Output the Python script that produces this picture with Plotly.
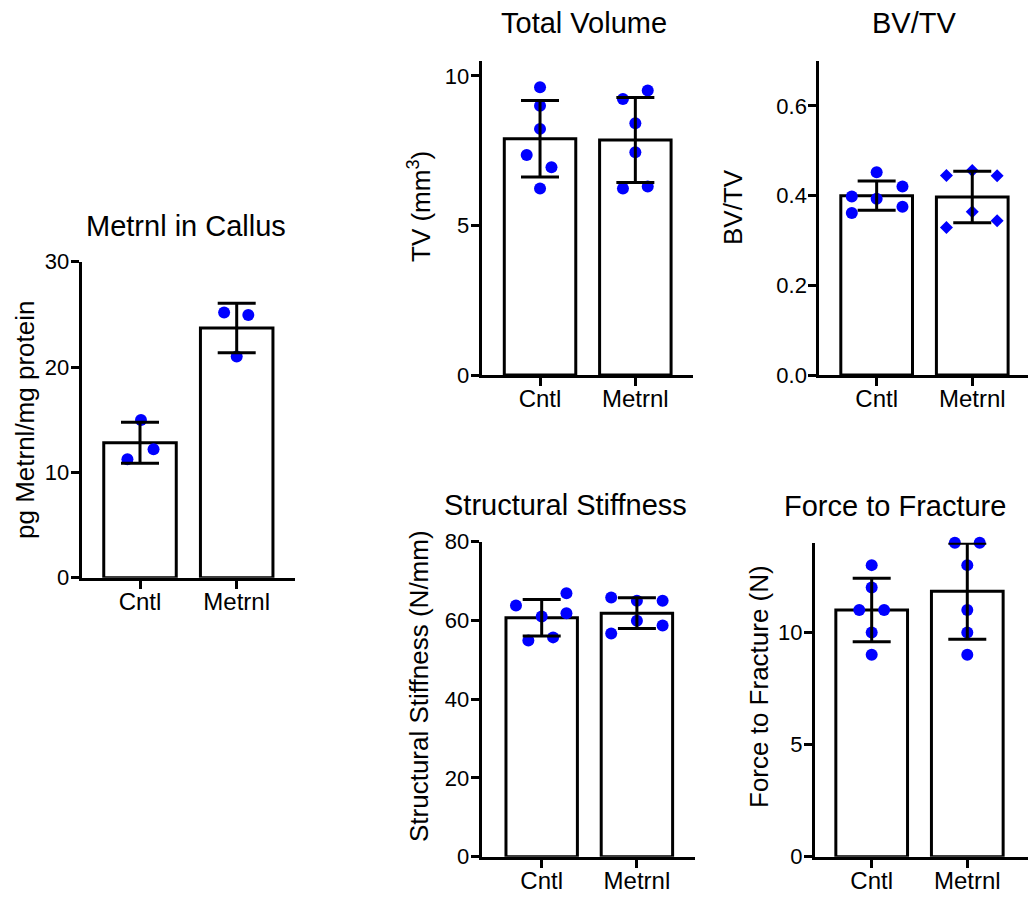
import numpy as np
import plotly.graph_objects as go

# ---------------- data ----------------
groups = ["Cntl", "Metrnl"]

callus_cntl = [14.98, 12.19, 11.24]
callus_metrnl = [25.17, 24.95, 20.99]

tv_cntl = [9.62, 9.00, 8.23, 7.36, 6.95, 6.24]
tv_metrnl = [9.51, 9.23, 8.42, 7.45, 6.24, 6.30]

bvtv_cntl = [0.452, 0.398, 0.393, 0.420, 0.361, 0.375]
bvtv_metrnl = [0.456, 0.445, 0.444, 0.364, 0.329, 0.344]

stiff_cntl = [66.9, 63.8, 61.8, 61.0, 55.7, 54.9]
stiff_metrnl = [65.8, 65.0, 65.0, 59.9, 58.7, 56.7]

force_cntl = [13, 12, 11, 11, 10, 9]
force_metrnl = [14, 14, 13, 11, 10, 9]

# ---------------- layout helpers (point spread, not data) ----------------
spread_callus = ([0.01, 0.14, -0.13], [-0.13, 0.12, 0.0])
spread_tv = ([0, 0, 0, -0.14, 0.12, 0], [0.13, -0.13, 0, 0, -0.13, 0.13])
spread_bvtv = ([0, -0.26, 0, 0.27, -0.26, 0.27], [0, -0.27, 0.26, 0, -0.27, 0.26])
spread_stiff = ([0.26, -0.27, 0.26, 0, 0.12, -0.14], [-0.27, 0, 0.27, 0, 0.27, -0.27])
spread_force = ([0, 0, -0.13, 0.13, 0, 0], [-0.13, 0.13, 0, 0, 0, 0])

W, H = 1028, 897
FONT = "Liberation Sans, Arial, sans-serif"
BLUE = "#0000FF"


def px(x):
    return x / W


def py(y):
    return 1 - y / H


panels = [
    dict(title="Metrnl in Callus", ytitle="pg Metrnl/mg protein",
         data=(callus_cntl, callus_metrnl), spread=spread_callus,
         xdom=(81.7, 295), ydom=(577.7, 261.7), xr=(-0.603, 1.603), yr=(0, 30),
         yt=[0, 10, 20, 30], fmt=None, sym=("circle", "circle"),
         tpos=(186, 226), ypos=(25, 420)),
    dict(title="Total Volume", ytitle="TV (mm<sup>3</sup>)",
         data=(tv_cntl, tv_metrnl), spread=spread_tv,
         xdom=(481.7, 693), ydom=(375, 61), xr=(-0.612, 1.605), yr=(0, 10.5),
         yt=[0, 5, 10], fmt=None, sym=("circle", "circle"),
         tpos=(584, 23), ypos=(419, 207)),
    dict(title="BV/TV", ytitle="BV/TV",
         data=(bvtv_cntl, bvtv_metrnl), spread=spread_bvtv,
         xdom=(819.3, 1028), ydom=(375, 61), xr=(-0.6, 1.583), yr=(0, 0.7),
         yt=[0, 0.2, 0.4, 0.6], fmt=".1f", sym=("circle", "diamond"),
         tpos=(914, 23), ypos=(733, 207)),
    dict(title="Structural Stiffness", ytitle="Structural Stiffness (N/mm)",
         data=(stiff_cntl, stiff_metrnl), spread=spread_stiff,
         xdom=(481.7, 695), ydom=(856.7, 541.7), xr=(-0.63, 1.61), yr=(0, 80),
         yt=[0, 20, 40, 60, 80], fmt=None, sym=("circle", "circle"),
         tpos=(565, 505), ypos=(419, 686)),
    dict(title="Force to Fracture", ytitle="Force to Fracture (N)",
         data=(force_cntl, force_metrnl), spread=spread_force,
         xdom=(815, 1028), ydom=(856.7, 542.7), xr=(-0.593, 1.635), yr=(0, 14),
         yt=[0, 5, 10], fmt=None, sym=("circle", "circle"),
         tpos=(895, 506), ypos=(759, 687)),
]

fig = go.Figure()
annotations = []
layout_axes = {}

for i, p in enumerate(panels, start=1):
    suffix = "" if i == 1 else str(i)
    xa, ya = "x" + suffix, "y" + suffix
    means = [float(np.mean(v)) for v in p["data"]]
    sds = [float(np.std(v, ddof=1)) for v in p["data"]]

    # bars
    fig.add_trace(go.Bar(
        x=[0, 1], y=means, width=0.75, xaxis=xa, yaxis=ya,
        marker=dict(color="white", line=dict(color="black", width=3)),
        showlegend=False, hoverinfo="skip"))
    # points
    for g in range(2):
        vals = p["data"][g]
        xs = [g + d for d in p["spread"][g]]
        sym = p["sym"][g]
        fig.add_trace(go.Scatter(
            x=xs, y=vals, mode="markers", xaxis=xa, yaxis=ya,
            marker=dict(color=BLUE, size=12 if sym == "circle" else 10,
                        symbol=sym, line=dict(width=0)),
            showlegend=False, cliponaxis=False))
    # error bars (mean +/- SD) on top
    fig.add_trace(go.Scatter(
        x=[0, 1], y=means, mode="markers", xaxis=xa, yaxis=ya,
        marker=dict(size=1, opacity=0),
        error_y=dict(type="data", array=sds, visible=True,
                     color="black", thickness=3, width=19),
        showlegend=False, cliponaxis=False))

    common = dict(showline=True, linecolor="black", linewidth=3,
                  ticks="outside", ticklen=8, tickwidth=3, tickcolor="black",
                  showgrid=False, zeroline=False, automargin=False,
                  tickfont=dict(family=FONT, size=22, color="black"))
    layout_axes["xaxis" + suffix] = dict(
        common, domain=[px(p["xdom"][0]), px(p["xdom"][1])],
        range=list(p["xr"]), tickvals=[0, 1], ticktext=groups,
        anchor=ya, fixedrange=True, ticklabelstandoff=-8,
        tickfont=dict(family=FONT, size=24, color="black"))
    yax = dict(common, domain=[py(p["ydom"][0]), py(p["ydom"][1])],
               range=list(p["yr"]), tickvals=p["yt"], anchor=xa,
               ticklabelstandoff=-3, fixedrange=True)
    if p["fmt"]:
        yax["tickformat"] = p["fmt"]
    layout_axes["yaxis" + suffix] = yax

    annotations.append(dict(
        text=p["title"], x=px(p["tpos"][0]), y=py(p["tpos"][1]),
        xref="paper", yref="paper", xanchor="center", yanchor="middle",
        showarrow=False, font=dict(family=FONT, size=29, color="black")))
    annotations.append(dict(
        text=p["ytitle"], x=px(p["ypos"][0]), y=py(p["ypos"][1]),
        xref="paper", yref="paper", xanchor="center", yanchor="middle",
        textangle=-90, showarrow=False,
        font=dict(family=FONT, size=26, color="black")))

fig.update_layout(
    width=W, height=H,
    margin=dict(l=0, r=0, t=0, b=0, pad=0, autoexpand=False),
    paper_bgcolor="white", plot_bgcolor="white",
    barmode="overlay", showlegend=False, hovermode=False,
    annotations=annotations, **layout_axes)

fig.write_html(
    "out.html",
    config={"displayModeBar": False, "staticPlot": False},
    post_script="document.body.style.margin='0';"
                "document.documentElement.style.overflow='hidden';")
